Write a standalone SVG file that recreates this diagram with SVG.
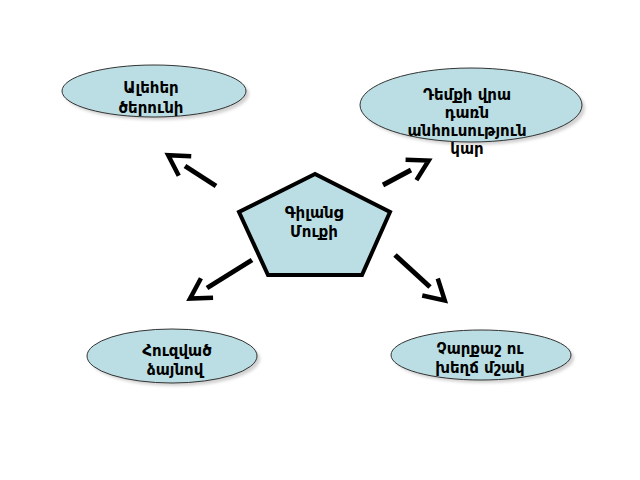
<svg xmlns="http://www.w3.org/2000/svg" width="640" height="480" viewBox="0 0 640 480">
<defs>
<style>
.ell{fill:#badee3;stroke:#333;stroke-width:1}
.sh{fill:#9a9a9a;opacity:0.45}
.pent{fill:#badee3;stroke:#000;stroke-width:4;stroke-linejoin:miter}
.t{font-family:"DejaVu Sans","Noto Sans",sans-serif;font-size:15px;font-weight:bold;fill:#000;text-anchor:middle}
.arr{stroke:#000;stroke-width:5;fill:none;marker-end:url(#ah)}
</style>
<filter id="blur" x="-10%" y="-10%" width="120%" height="130%"><feGaussianBlur stdDeviation="1.5"/></filter>
<marker id="ah" markerUnits="userSpaceOnUse" markerWidth="50" markerHeight="40" viewBox="-10 -20 50 40" refX="0" refY="0" orient="auto">
<path d="M0,-11.5 L20,0 L0,11.5" fill="none" stroke="#000" stroke-width="4.5" stroke-linejoin="miter"/>
</marker>
</defs>
<rect width="640" height="480" fill="#fff"/>
<g id="connectors">
<line class="arr" x1="216" y1="186" x2="185" y2="166"/>
<line class="arr" x1="383" y1="185" x2="411" y2="170"/>
<line class="arr" x1="252" y1="260" x2="207" y2="288"/>
<line class="arr" x1="395" y1="255" x2="430" y2="287"/>
</g>
<g id="node-center">
<polygon class="pent" points="315,174 239,212 268,275 362,275 390,212"/>
<text class="t" x="314" y="218">Գիլանց</text>
<text class="t" x="314" y="237">Մուքի</text>
</g>
<g id="node-top-left">
<ellipse class="sh" cx="157" cy="94" rx="92" ry="26" filter="url(#blur)"/>
<ellipse class="ell" cx="154" cy="91" rx="92" ry="26"/>
<text class="t" x="151" y="93">Ալեհեր</text>
<text class="t" x="151" y="113">ծերունի</text>
</g>
<g id="node-top-right">
<ellipse class="sh" cx="474" cy="108" rx="111" ry="37" filter="url(#blur)"/>
<ellipse class="ell" cx="471" cy="105" rx="111" ry="37"/>
<text class="t" x="467" y="100">Դեմքի վրա</text>
<text class="t" x="467" y="118">դառն</text>
<text class="t" x="467" y="136">անհուսություն</text>
<text class="t" x="467" y="154">կար</text>
</g>
<g id="node-bottom-left">
<ellipse class="sh" cx="175" cy="359" rx="85" ry="27" filter="url(#blur)"/>
<ellipse class="ell" cx="172" cy="356" rx="85" ry="27"/>
<text class="t" x="177" y="356">Հուզված</text>
<text class="t" x="175" y="375">ձայնով</text>
</g>
<g id="node-bottom-right">
<ellipse class="sh" cx="484" cy="358" rx="90" ry="25" filter="url(#blur)"/>
<ellipse class="ell" cx="481" cy="355" rx="90" ry="25"/>
<text class="t" x="480" y="354">Չարքաշ ու</text>
<text class="t" x="480" y="373">խեղճ մշակ</text>
</g>
</svg>
